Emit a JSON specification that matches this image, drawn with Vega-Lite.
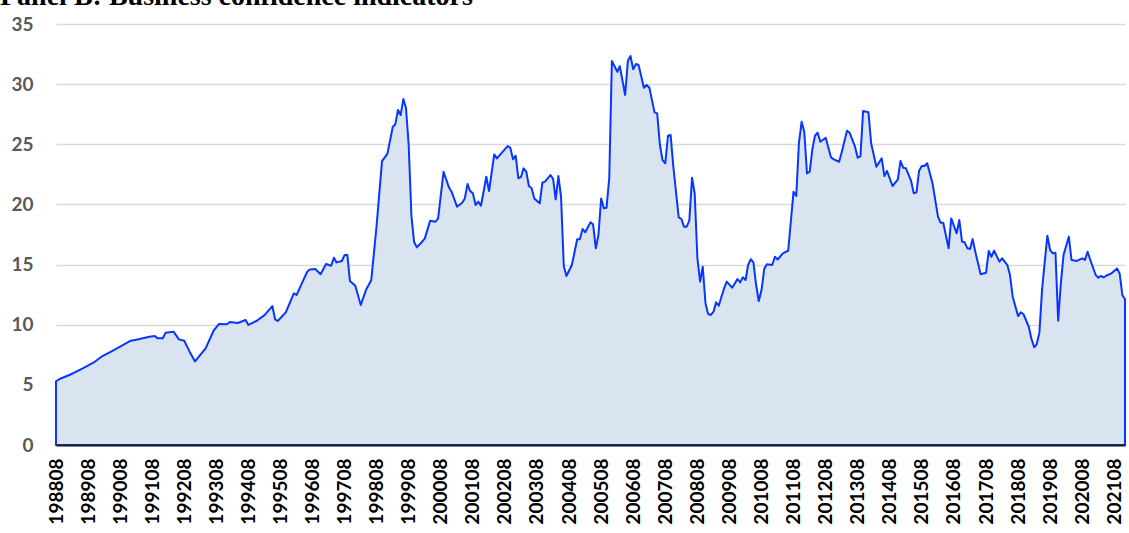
{
  "$schema": "https://vega.github.io/schema/vega-lite/v6.json",
  "width": 1069,
  "height": 421,
  "autosize": "none",
  "padding": {"left": 56, "top": 24, "right": 4, "bottom": 88},
  "background": "white",
  "title": {"text": "Panel B: Business confidence indicators", "font": "Liberation Serif", "fontSize": 28, "fontWeight": "bold", "color": "#000000", "anchor": "start", "frame": "group", "baseline": "alphabetic", "dx": -56, "offset": -18},
  "data": {"values": [
    {"date": "1988-08-01", "v": 5.3}, {"date": "1988-10-01", "v": 5.55}, {"date": "1989-01-01", "v": 5.82}, {"date": "1989-04-01", "v": 6.15}, {"date": "1989-06-01", "v": 6.37}, {"date": "1989-10-01", "v": 6.84}, {"date": "1990-01-01", "v": 7.34}, {"date": "1990-05-01", "v": 7.81}, {"date": "1990-08-01", "v": 8.17}, {"date": "1990-12-01", "v": 8.67}, {"date": "1991-02-01", "v": 8.75}, {"date": "1991-07-01", "v": 9.0}, {"date": "1991-09-01", "v": 9.06}, {"date": "1991-10-01", "v": 8.87}, {"date": "1991-12-01", "v": 8.87}, {"date": "1992-01-01", "v": 9.34}, {"date": "1992-04-01", "v": 9.42}, {"date": "1992-06-01", "v": 8.78}, {"date": "1992-08-01", "v": 8.67}, {"date": "1992-10-01", "v": 7.76}, {"date": "1992-12-01", "v": 6.95}, {"date": "1993-04-01", "v": 8.03}, {"date": "1993-07-01", "v": 9.5}, {"date": "1993-09-01", "v": 10.06}, {"date": "1993-12-01", "v": 10.03}, {"date": "1994-01-01", "v": 10.22}, {"date": "1994-04-01", "v": 10.14}, {"date": "1994-07-01", "v": 10.39}, {"date": "1994-08-01", "v": 9.98}, {"date": "1994-11-01", "v": 10.31}, {"date": "1995-02-01", "v": 10.8}, {"date": "1995-05-01", "v": 11.55}, {"date": "1995-06-01", "v": 10.45}, {"date": "1995-07-01", "v": 10.31}, {"date": "1995-10-01", "v": 11.03}, {"date": "1996-01-01", "v": 12.61}, {"date": "1996-02-01", "v": 12.47}, {"date": "1996-04-01", "v": 13.44}, {"date": "1996-06-01", "v": 14.4}, {"date": "1996-07-01", "v": 14.6}, {"date": "1996-09-01", "v": 14.63}, {"date": "1996-11-01", "v": 14.2}, {"date": "1997-01-01", "v": 15.05}, {"date": "1997-03-01", "v": 14.9}, {"date": "1997-04-01", "v": 15.57}, {"date": "1997-05-01", "v": 15.18}, {"date": "1997-07-01", "v": 15.3}, {"date": "1997-08-01", "v": 15.8}, {"date": "1997-09-01", "v": 15.8}, {"date": "1997-10-01", "v": 13.63}, {"date": "1997-12-01", "v": 13.24}, {"date": "1998-02-01", "v": 11.64}, {"date": "1998-04-01", "v": 12.88}, {"date": "1998-06-01", "v": 13.72}, {"date": "1998-08-01", "v": 18.29}, {"date": "1998-10-01", "v": 23.6}, {"date": "1998-12-01", "v": 24.2}, {"date": "1999-02-01", "v": 26.46}, {"date": "1999-03-01", "v": 26.65}, {"date": "1999-04-01", "v": 27.85}, {"date": "1999-05-01", "v": 27.43}, {"date": "1999-06-01", "v": 28.76}, {"date": "1999-07-01", "v": 28.04}, {"date": "1999-08-01", "v": 24.9}, {"date": "1999-09-01", "v": 19.05}, {"date": "1999-10-01", "v": 16.9}, {"date": "1999-11-01", "v": 16.43}, {"date": "2000-01-01", "v": 16.9}, {"date": "2000-02-01", "v": 17.18}, {"date": "2000-04-01", "v": 18.65}, {"date": "2000-06-01", "v": 18.56}, {"date": "2000-07-01", "v": 18.84}, {"date": "2000-09-01", "v": 22.72}, {"date": "2000-11-01", "v": 21.42}, {"date": "2000-12-01", "v": 21.06}, {"date": "2001-02-01", "v": 19.81}, {"date": "2001-04-01", "v": 20.14}, {"date": "2001-05-01", "v": 20.5}, {"date": "2001-06-01", "v": 21.7}, {"date": "2001-07-01", "v": 21.11}, {"date": "2001-08-01", "v": 20.92}, {"date": "2001-09-01", "v": 19.95}, {"date": "2001-10-01", "v": 20.23}, {"date": "2001-11-01", "v": 19.89}, {"date": "2002-01-01", "v": 22.3}, {"date": "2002-02-01", "v": 21.11}, {"date": "2002-04-01", "v": 24.16}, {"date": "2002-05-01", "v": 23.83}, {"date": "2002-09-01", "v": 24.85}, {"date": "2002-10-01", "v": 24.71}, {"date": "2002-11-01", "v": 23.75}, {"date": "2002-12-01", "v": 24.05}, {"date": "2003-01-01", "v": 22.17}, {"date": "2003-02-01", "v": 22.3}, {"date": "2003-03-01", "v": 23.0}, {"date": "2003-04-01", "v": 22.72}, {"date": "2003-05-01", "v": 21.53}, {"date": "2003-06-01", "v": 21.34}, {"date": "2003-07-01", "v": 20.5}, {"date": "2003-09-01", "v": 20.09}, {"date": "2003-10-01", "v": 21.8}, {"date": "2003-11-01", "v": 21.89}, {"date": "2004-01-01", "v": 22.44}, {"date": "2004-02-01", "v": 22.11}, {"date": "2004-03-01", "v": 20.42}, {"date": "2004-04-01", "v": 22.36}, {"date": "2004-05-01", "v": 20.64}, {"date": "2004-06-01", "v": 14.88}, {"date": "2004-07-01", "v": 14.05}, {"date": "2004-09-01", "v": 14.96}, {"date": "2004-11-01", "v": 17.1}, {"date": "2004-12-01", "v": 17.1}, {"date": "2005-01-01", "v": 17.96}, {"date": "2005-02-01", "v": 17.68}, {"date": "2005-04-01", "v": 18.51}, {"date": "2005-05-01", "v": 18.35}, {"date": "2005-06-01", "v": 16.35}, {"date": "2005-07-01", "v": 17.46}, {"date": "2005-08-01", "v": 20.5}, {"date": "2005-09-01", "v": 19.67}, {"date": "2005-10-01", "v": 19.73}, {"date": "2005-11-01", "v": 22.17}, {"date": "2005-12-01", "v": 31.92}, {"date": "2006-02-01", "v": 31.03}, {"date": "2006-03-01", "v": 31.5}, {"date": "2006-05-01", "v": 29.1}, {"date": "2006-06-01", "v": 31.92}, {"date": "2006-07-01", "v": 32.34}, {"date": "2006-08-01", "v": 31.23}, {"date": "2006-09-01", "v": 31.67}, {"date": "2006-10-01", "v": 31.59}, {"date": "2006-12-01", "v": 29.7}, {"date": "2007-01-01", "v": 29.93}, {"date": "2007-02-01", "v": 29.7}, {"date": "2007-04-01", "v": 27.65}, {"date": "2007-05-01", "v": 27.57}, {"date": "2007-06-01", "v": 24.94}, {"date": "2007-07-01", "v": 23.69}, {"date": "2007-08-01", "v": 23.42}, {"date": "2007-09-01", "v": 25.71}, {"date": "2007-10-01", "v": 25.77}, {"date": "2007-11-01", "v": 23.13}, {"date": "2008-01-01", "v": 18.93}, {"date": "2008-02-01", "v": 18.79}, {"date": "2008-03-01", "v": 18.15}, {"date": "2008-04-01", "v": 18.15}, {"date": "2008-05-01", "v": 18.65}, {"date": "2008-06-01", "v": 22.22}, {"date": "2008-07-01", "v": 20.92}, {"date": "2008-08-01", "v": 15.52}, {"date": "2008-09-01", "v": 13.58}, {"date": "2008-10-01", "v": 14.82}, {"date": "2008-11-01", "v": 11.78}, {"date": "2008-12-01", "v": 10.9}, {"date": "2009-01-01", "v": 10.81}, {"date": "2009-02-01", "v": 11.08}, {"date": "2009-03-01", "v": 11.86}, {"date": "2009-04-01", "v": 11.58}, {"date": "2009-06-01", "v": 13.03}, {"date": "2009-07-01", "v": 13.58}, {"date": "2009-09-01", "v": 13.08}, {"date": "2009-11-01", "v": 13.8}, {"date": "2009-12-01", "v": 13.52}, {"date": "2010-01-01", "v": 13.94}, {"date": "2010-02-01", "v": 13.72}, {"date": "2010-03-01", "v": 14.96}, {"date": "2010-04-01", "v": 15.44}, {"date": "2010-05-01", "v": 15.19}, {"date": "2010-06-01", "v": 13.3}, {"date": "2010-07-01", "v": 11.97}, {"date": "2010-08-01", "v": 12.88}, {"date": "2010-09-01", "v": 14.63}, {"date": "2010-10-01", "v": 15.02}, {"date": "2010-12-01", "v": 14.96}, {"date": "2011-01-01", "v": 15.65}, {"date": "2011-02-01", "v": 15.42}, {"date": "2011-04-01", "v": 15.93}, {"date": "2011-06-01", "v": 16.15}, {"date": "2011-08-01", "v": 21.06}, {"date": "2011-09-01", "v": 20.7}, {"date": "2011-10-01", "v": 25.08}, {"date": "2011-11-01", "v": 26.88}, {"date": "2011-12-01", "v": 26.04}, {"date": "2012-01-01", "v": 22.58}, {"date": "2012-02-01", "v": 22.72}, {"date": "2012-03-01", "v": 24.52}, {"date": "2012-04-01", "v": 25.71}, {"date": "2012-05-01", "v": 25.96}, {"date": "2012-06-01", "v": 25.21}, {"date": "2012-08-01", "v": 25.54}, {"date": "2012-10-01", "v": 23.91}, {"date": "2012-11-01", "v": 23.75}, {"date": "2013-01-01", "v": 23.55}, {"date": "2013-02-01", "v": 24.38}, {"date": "2013-03-01", "v": 25.21}, {"date": "2013-04-01", "v": 26.13}, {"date": "2013-05-01", "v": 25.96}, {"date": "2013-07-01", "v": 24.8}, {"date": "2013-08-01", "v": 23.88}, {"date": "2013-09-01", "v": 24.02}, {"date": "2013-10-01", "v": 27.76}, {"date": "2013-12-01", "v": 27.66}, {"date": "2014-01-01", "v": 25.08}, {"date": "2014-03-01", "v": 23.13}, {"date": "2014-05-01", "v": 23.83}, {"date": "2014-06-01", "v": 22.36}, {"date": "2014-07-01", "v": 22.78}, {"date": "2014-09-01", "v": 21.53}, {"date": "2014-11-01", "v": 22.09}, {"date": "2014-12-01", "v": 23.61}, {"date": "2015-01-01", "v": 23.05}, {"date": "2015-02-01", "v": 23.0}, {"date": "2015-04-01", "v": 21.95}, {"date": "2015-05-01", "v": 20.92}, {"date": "2015-06-01", "v": 21.0}, {"date": "2015-07-01", "v": 22.8}, {"date": "2015-08-01", "v": 23.19}, {"date": "2015-09-01", "v": 23.19}, {"date": "2015-10-01", "v": 23.42}, {"date": "2015-12-01", "v": 21.75}, {"date": "2016-02-01", "v": 18.98}, {"date": "2016-03-01", "v": 18.48}, {"date": "2016-04-01", "v": 18.48}, {"date": "2016-06-01", "v": 16.35}, {"date": "2016-07-01", "v": 18.84}, {"date": "2016-09-01", "v": 17.6}, {"date": "2016-10-01", "v": 18.7}, {"date": "2016-11-01", "v": 16.9}, {"date": "2016-12-01", "v": 16.85}, {"date": "2017-01-01", "v": 16.35}, {"date": "2017-02-01", "v": 16.29}, {"date": "2017-03-01", "v": 17.12}, {"date": "2017-04-01", "v": 16.07}, {"date": "2017-06-01", "v": 14.19}, {"date": "2017-08-01", "v": 14.32}, {"date": "2017-09-01", "v": 16.13}, {"date": "2017-10-01", "v": 15.65}, {"date": "2017-11-01", "v": 16.15}, {"date": "2018-01-01", "v": 15.24}, {"date": "2018-02-01", "v": 15.52}, {"date": "2018-04-01", "v": 14.96}, {"date": "2018-05-01", "v": 14.13}, {"date": "2018-06-01", "v": 12.33}, {"date": "2018-08-01", "v": 10.72}, {"date": "2018-09-01", "v": 11.03}, {"date": "2018-10-01", "v": 10.89}, {"date": "2018-12-01", "v": 9.83}, {"date": "2019-01-01", "v": 8.81}, {"date": "2019-02-01", "v": 8.12}, {"date": "2019-03-01", "v": 8.37}, {"date": "2019-04-01", "v": 9.34}, {"date": "2019-05-01", "v": 12.88}, {"date": "2019-06-01", "v": 15.24}, {"date": "2019-07-01", "v": 17.4}, {"date": "2019-08-01", "v": 16.21}, {"date": "2019-09-01", "v": 15.93}, {"date": "2019-10-01", "v": 15.99}, {"date": "2019-11-01", "v": 10.33}, {"date": "2019-12-01", "v": 13.44}, {"date": "2020-01-01", "v": 15.79}, {"date": "2020-03-01", "v": 17.32}, {"date": "2020-04-01", "v": 15.38}, {"date": "2020-06-01", "v": 15.3}, {"date": "2020-08-01", "v": 15.52}, {"date": "2020-09-01", "v": 15.38}, {"date": "2020-10-01", "v": 16.07}, {"date": "2020-11-01", "v": 15.38}, {"date": "2021-01-01", "v": 14.13}, {"date": "2021-02-01", "v": 13.91}, {"date": "2021-03-01", "v": 14.05}, {"date": "2021-04-01", "v": 13.94}, {"date": "2021-05-01", "v": 14.07}, {"date": "2021-07-01", "v": 14.27}, {"date": "2021-09-01", "v": 14.68}, {"date": "2021-10-01", "v": 14.27}, {"date": "2021-11-01", "v": 12.47}, {"date": "2021-12-01", "v": 12.11}
  ]},
  "mark": {"type": "area", "fill": "#dae3f0", "fillOpacity": 1, "opacity": 1, "stroke": "#0736ff", "strokeWidth": 2, "strokeJoin": "round", "interpolate": "linear"},
  "encoding": {
    "x": {
      "field": "date", "type": "temporal", "timeUnit": "utcyearmonth",
      "scale": {"domain": [{"year": 1988, "month": 8, "date": 1, "utc": true}, {"year": 2021, "month": 12, "date": 1, "utc": true}], "nice": false},
      "axis": {
        "title": null, "grid": false, "ticks": false, "domainColor": "#1e1e1e", "domainWidth": 2,
        "labelAngle": -90, "labelFont": "Lato", "labelFontSize": 19, "labelFontWeight": "bold", "labelColor": "#000000",
        "labelPadding": 13, "labelOverlap": false, "labelBound": false, "labelFlush": false, "zindex": 1, "format": "%Y%m",
        "values": [
          {"year": 1988, "month": 8, "date": 1, "utc": true}, {"year": 1989, "month": 8, "date": 1, "utc": true}, {"year": 1990, "month": 8, "date": 1, "utc": true}, {"year": 1991, "month": 8, "date": 1, "utc": true}, {"year": 1992, "month": 8, "date": 1, "utc": true}, {"year": 1993, "month": 8, "date": 1, "utc": true}, {"year": 1994, "month": 8, "date": 1, "utc": true}, {"year": 1995, "month": 8, "date": 1, "utc": true}, {"year": 1996, "month": 8, "date": 1, "utc": true}, {"year": 1997, "month": 8, "date": 1, "utc": true}, {"year": 1998, "month": 8, "date": 1, "utc": true}, {"year": 1999, "month": 8, "date": 1, "utc": true}, {"year": 2000, "month": 8, "date": 1, "utc": true}, {"year": 2001, "month": 8, "date": 1, "utc": true}, {"year": 2002, "month": 8, "date": 1, "utc": true}, {"year": 2003, "month": 8, "date": 1, "utc": true}, {"year": 2004, "month": 8, "date": 1, "utc": true}, {"year": 2005, "month": 8, "date": 1, "utc": true}, {"year": 2006, "month": 8, "date": 1, "utc": true}, {"year": 2007, "month": 8, "date": 1, "utc": true}, {"year": 2008, "month": 8, "date": 1, "utc": true}, {"year": 2009, "month": 8, "date": 1, "utc": true}, {"year": 2010, "month": 8, "date": 1, "utc": true}, {"year": 2011, "month": 8, "date": 1, "utc": true}, {"year": 2012, "month": 8, "date": 1, "utc": true}, {"year": 2013, "month": 8, "date": 1, "utc": true}, {"year": 2014, "month": 8, "date": 1, "utc": true}, {"year": 2015, "month": 8, "date": 1, "utc": true}, {"year": 2016, "month": 8, "date": 1, "utc": true}, {"year": 2017, "month": 8, "date": 1, "utc": true}, {"year": 2018, "month": 8, "date": 1, "utc": true}, {"year": 2019, "month": 8, "date": 1, "utc": true}, {"year": 2020, "month": 8, "date": 1, "utc": true}, {"year": 2021, "month": 8, "date": 1, "utc": true}
        ]
      }
    },
    "y": {
      "field": "v", "type": "quantitative",
      "scale": {"domain": [0, 35], "nice": false},
      "axis": {
        "title": null, "values": [0, 5, 10, 15, 20, 25, 30, 35], "domain": false, "ticks": false,
        "grid": true, "gridColor": "#d9d9d9", "gridWidth": 1.5,
        "labelFont": "Lato", "labelFontSize": 19, "labelFontWeight": "bold", "labelColor": "#595959", "labelPadding": 23
      }
    }
  },
  "config": {"view": {"stroke": null}}
}
